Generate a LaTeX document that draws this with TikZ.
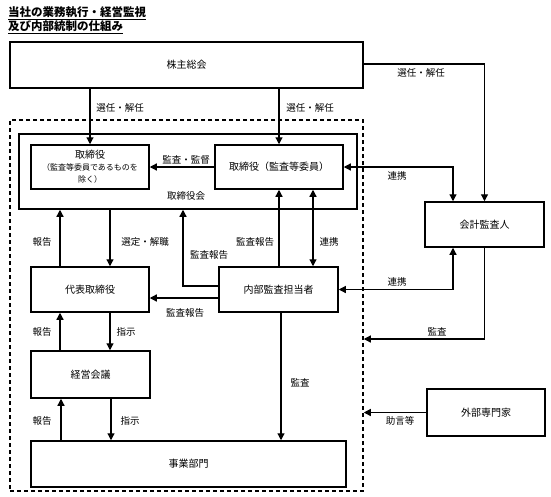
\documentclass[tikz,border=0pt]{standalone}
\usepackage{fontspec}
\setmainfont{Noto Sans CJK JP}
\usetikzlibrary{arrows.meta}
\newcommand{\smallj}{\fontsize{8}{9.5}\selectfont}
\begin{document}
\begin{tikzpicture}[x=1pt,y=-1pt,
  box/.style={draw,line width=1.5pt,inner sep=0pt,align=center,font=\fontsize{10}{12}\selectfont},
  lbl/.style={font=\fontsize{9.5}{11}\selectfont,inner sep=0pt},
  conn/.style={line width=1.2pt,-{Triangle[length=7pt,width=7pt]}},
  conn2/.style={line width=1.2pt,{Triangle[length=7pt,width=7pt]}-{Triangle[length=7pt,width=7pt]}}]
\useasboundingbox (0,0) rectangle (551,496);
% title
\node[anchor=west,inner sep=0pt,font=\fontsize{11.5}{13}\selectfont\bfseries] (t1) at (8,13) {\underline{当社の業務執行・経営監視}};
\node[anchor=west,inner sep=0pt,font=\fontsize{11.5}{13}\selectfont\bfseries] (t2) at (8,27) {\underline{及び内部統制の仕組み}};
% boxes
\node[box,minimum width=353pt,minimum height=46pt] (kabu) at (186.5,65) {株主総会};
\node[draw,line width=1.5pt,dash pattern=on 4pt off 3pt,minimum width=353pt,minimum height=371pt,inner sep=0pt] (org) at (186.5,305.5) {};
\node[box,minimum width=338pt,minimum height=75pt] (torikai) at (188,171.5) {};
\node[lbl] (torikaiL) at (186,196) {取締役会};
\node[box,minimum width=118pt,minimum height=44pt] (tori1) at (90,167) {取締役\\ \smallj （監査等委員であるものを\\ \smallj 除く）};
\node[box,minimum width=128pt,minimum height=44pt] (tori2) at (279,167) {取締役（監査等委員）};
\node[box,minimum width=118pt,minimum height=45pt] (daihyo) at (90,289.5) {代表取締役};
\node[box,minimum width=119pt,minimum height=45pt] (naibu) at (278.5,289.5) {内部監査担当者};
\node[box,minimum width=119pt,minimum height=47pt] (keiei) at (90.5,374.5) {経営会議};
\node[box,minimum width=315pt,minimum height=46pt] (jigyo) at (188.5,464) {事業部門};
\node[box,minimum width=119pt,minimum height=45pt] (kaikei) at (484.5,224.5) {会計監査人};
\node[box,minimum width=118pt,minimum height=47pt] (gaibu) at (486,412.5) {外部専門家};
% connectors
\draw[conn] (kabu.south -| tori1.north) -- (tori1.north);
\draw[conn] (kabu.south -| tori2.north) -- (tori2.north);
\draw[conn] (kabu.east |- 0,64) -| (kaikei.north);
\draw[conn] (tori2.west) -- (tori1.east);
\draw[conn2] (tori2.east) -| (kaikei.north -| 453,0);
\draw[conn2] (naibu.east) -| (kaikei.south -| 453,0);
\draw[conn] (kaikei.south) |- (org.east |- 0,339);
\draw[conn] (gaibu.west) -- (gaibu.west -| org.east);
\draw[conn] (daihyo.north -| 60,0) -- (torikai.south -| 60,0);
\draw[conn] (torikai.south -| 110,0) -- (daihyo.north -| 110,0);
\draw[conn] (naibu.west |- 0,286) -| (torikai.south -| 183,0);
\draw[conn] (naibu.north -| 279,0) -- (tori2.south -| 279,0);
\draw[conn2] (tori2.south -| 313,0) -- (naibu.north -| 313,0);
\draw[conn] (naibu.west |- 0,298) -- (daihyo.east |- 0,298);
\draw[conn] (keiei.north -| 60,0) -- (daihyo.south -| 60,0);
\draw[conn] (daihyo.south -| 110,0) -- (keiei.north -| 110,0);
\draw[conn] (jigyo.north -| 61,0) -- (keiei.south -| 61,0);
\draw[conn] (keiei.south -| 111,0) -- (jigyo.north -| 111,0);
\draw[conn] (naibu.south -| 281,0) -- (jigyo.north -| 281,0);
% labels
\node[lbl] (l1) at (120,108) {選任・解任};
\node[lbl] (l2) at (310,108) {選任・解任};
\node[lbl] (l3) at (421,73) {選任・解任};
\node[lbl] (l4) at (186,160) {監査・監督};
\node[lbl] (l5) at (397,176) {連携};
\node[lbl] (l6) at (397,282) {連携};
\node[lbl] (l7) at (437,332) {監査};
\node[lbl] (l8) at (400,421) {助言等};
\node[lbl] (l9) at (42,242) {報告};
\node[lbl] (l10) at (145,242) {選定・解職};
\node[lbl] (l11) at (209,255) {監査報告};
\node[lbl] (l12) at (255,242) {監査報告};
\node[lbl] (l13) at (329,242) {連携};
\node[lbl] (l14) at (185,313) {監査報告};
\node[lbl] (l15) at (42,332) {報告};
\node[lbl] (l16) at (126,332) {指示};
\node[lbl] (l17) at (42,421) {報告};
\node[lbl] (l18) at (130,421) {指示};
\node[lbl] (l19) at (300,383) {監査};
\end{tikzpicture}
\end{document}
